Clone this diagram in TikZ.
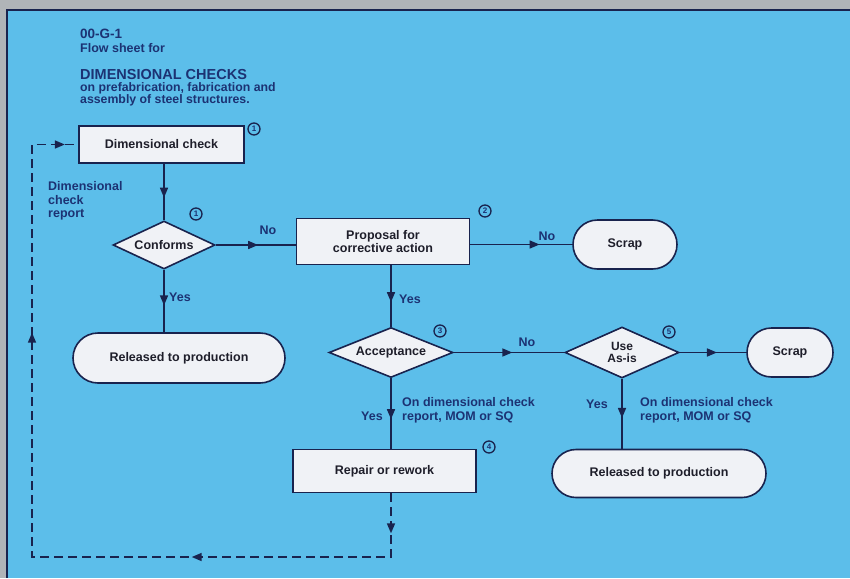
\documentclass[tikz,border=0pt]{standalone}
\usepackage{fontspec}
\setmainfont{Liberation Sans}
\usetikzlibrary{shapes.geometric,shapes.misc,arrows.meta,decorations.markings}
\definecolor{bg}{RGB}{92,190,234}
\definecolor{framegrey}{RGB}{176,180,184}
\definecolor{ink}{RGB}{25,35,78}
\definecolor{nodetext}{RGB}{30,30,42}
\definecolor{lbl}{RGB}{28,50,115}
\definecolor{boxfill}{RGB}{240,242,246}
\begin{document}
\begin{tikzpicture}[x=1pt,y=-1pt,
  every node/.style={font=\bfseries\fontsize{12.5}{13.5}\selectfont},
  proc/.style={draw=ink, fill=boxfill, text=nodetext, line width=1.6pt, rectangle, inner sep=0pt, align=center},
  term/.style={draw=ink, fill=boxfill, text=nodetext, line width=1.6pt, rounded rectangle, inner sep=0pt},
  decis/.style={draw=ink, fill=boxfill, line width=1.6pt, diamond, inner sep=0pt},
  dtext/.style={text=nodetext, inner sep=0pt, align=center},
  conn/.style={color=ink, line width=1.6pt},
  loopline/.style={color=ink, line width=1.6pt, dash pattern=on 9pt off 5pt},
  lbltext/.style={text=lbl, inner sep=0pt},
  numc/.style={circle, draw=ink, text=lbl, line width=1.3pt, inner sep=0pt, minimum size=12pt, font=\bfseries\fontsize{8}{8}\selectfont},
  midarrow/.style={postaction={decorate}, decoration={markings, mark=at position #1 with {\arrow{Triangle[length=10pt,width=8pt]}}}}
]
\useasboundingbox (0,0) rectangle (850,578);
% background
\fill[framegrey] (0,0) rectangle (850,578);
\fill[bg] (7,10) rectangle (850,578);
\draw[ink, line width=2pt] (7,578) -- (7,10) -- (850,10);

% title
\node[lbltext, anchor=base west, font=\bfseries\fontsize{13.5}{14}\selectfont] (t1) at (80,38.5) {00-G-1};
\node[lbltext, anchor=base west, font=\bfseries\fontsize{12.5}{13}\selectfont] (t2) at (80,52.5) {Flow sheet for};
\node[lbltext, anchor=base west, font=\bfseries\fontsize{14.5}{15}\selectfont] (t3) at (80,79.5) {DIMENSIONAL CHECKS};
\node[lbltext, anchor=base west, font=\bfseries\fontsize{12.3}{12}\selectfont] (t4) at (80,91.5) {on prefabrication, fabrication and};
\node[lbltext, anchor=base west, font=\bfseries\fontsize{12.3}{12}\selectfont] (t5) at (80,103.5) {assembly of steel structures.};

% nodes
\node[proc, minimum width=165pt, minimum height=37pt] (dim) at (161.5,144.5) {Dimensional check};
\node[decis, minimum width=102pt, minimum height=48pt] (conf) at (164,245) {};
\node[dtext] (conft) at (conf) {Conforms};
\node[term, minimum width=212pt, minimum height=50pt] (rel1) at (179,358) {Released to production};
\node[proc, minimum width=173pt, minimum height=46pt] (prop) at (383,241.5) {Proposal for\\corrective action};
\node[term, minimum width=104pt, minimum height=49pt] (scrap1) at (625,244.5) {Scrap};
\node[decis, minimum width=124pt, minimum height=50pt] (acc) at (391,352.5) {};
\node[dtext] (acct) at (acc) {Acceptance};
\node[decis, minimum width=114pt, minimum height=51pt] (use) at (622,352.5) {};
\node[dtext, font=\bfseries\fontsize{12}{11.5}\selectfont] (uset) at (use) {Use\\As-is};
\node[term, minimum width=86pt, minimum height=49pt] (scrap2) at (790,352.5) {Scrap};
\node[proc, minimum width=183pt, minimum height=43pt] (rep) at (384.5,471) {Repair or rework};
\node[term, minimum width=214pt, minimum height=48pt] (rel2) at (659,473.5) {Released to production};

% numbers
\node[numc] (n1a) at (254,129) {1};
\node[numc] (n1b) at (196,214) {1};
\node[numc] (n2) at (485,211) {2};
\node[numc] (n3) at (440,331) {3};
\node[numc] (n4) at (489,447) {4};
\node[numc] (n5) at (669,332) {5};

% connectors
\draw[conn, midarrow=0.6] (dim.south -| conf.north) -- (conf.north);
\draw[conn, midarrow=0.53] (conf.east) -- (conf.east -| prop.west);
\draw[conn, midarrow=0.57] (conf.south) -- (conf.south |- rel1.north);
\draw[conn, midarrow=0.68] (prop.east |- scrap1.west) -- (scrap1.west);
\draw[conn, midarrow=0.6] (prop.south -| acc.north) -- (acc.north);
\draw[conn, midarrow=0.53] (acc.east) -- (acc.east -| use.west);
\draw[conn, midarrow=0.56] (use.east) -- (scrap2.west);
\draw[conn, midarrow=0.56] (use.south) -- (use.south |- rel2.north);
\draw[conn, midarrow=0.58] (acc.south) -- (acc.south |- rep.north);

% dashed return loop
\coordinate (c1) at (391,557);
\coordinate (c2) at (32,557);
\coordinate (c3) at (dim.west -| c2);
\draw[loopline, postaction={decorate}, decoration={markings,
   mark=at position 40pt with {\arrow{Triangle[length=10pt,width=8pt]}},
   mark=at position 263pt with {\arrow{Triangle[length=10pt,width=8pt]}},
   mark=at position 647pt with {\arrow{Triangle[length=10pt,width=8pt]}},
   mark=at position 868pt with {\arrow{Triangle[length=10pt,width=8pt]}}}]
   (rep.south -| c1) -- (c1) -- (c2) -- (c3) -- (dim.west);

% labels
\node[lbltext, anchor=north west, align=left] (dcr) at (48,181.5) {Dimensional\\check\\report};
\node[lbltext] (no1) at (268,230) {No};
\node[lbltext] (yes1) at (180,297) {Yes};
\node[lbltext] (no2) at (547,236) {No};
\node[lbltext] (yes2) at (410,299) {Yes};
\node[lbltext] (no3) at (527,342) {No};
\node[lbltext] (yes3) at (372,416) {Yes};
\node[lbltext, anchor=north west, align=left, font=\bfseries\fontsize{12.5}{14}\selectfont] (ann1) at (402,397.5) {On dimensional check\\report, MOM or SQ};
\node[lbltext] (yes4) at (597,404) {Yes};
\node[lbltext, anchor=north west, align=left, font=\bfseries\fontsize{12.5}{14}\selectfont] (ann2) at (640,397.5) {On dimensional check\\report, MOM or SQ};
\end{tikzpicture}
\end{document}
